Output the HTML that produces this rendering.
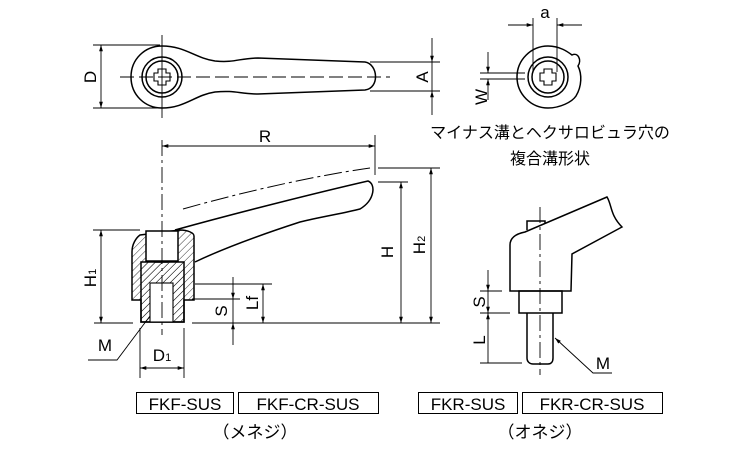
<!DOCTYPE html>
<html><head><meta charset="utf-8"><style>
html,body{margin:0;padding:0;background:#fff;}
svg{display:block;}
text{font-family:"Liberation Sans","Noto Sans CJK JP",sans-serif;fill:#000;}
</style></head><body>
<svg width="750" height="450" viewBox="0 0 750 450" xmlns="http://www.w3.org/2000/svg">
<defs>
<marker id="ar" viewBox="0 0 10 10" refX="10" refY="5" markerWidth="7" markerHeight="7" orient="auto-start-reverse"><path d="M0,2 L10,5 L0,8 z" fill="#000"/></marker>
<pattern id="hatch" width="5" height="5" patternUnits="userSpaceOnUse" patternTransform="rotate(45)"><line x1="0" y1="0" x2="0" y2="5" stroke="#000" stroke-width="0.8"/></pattern>
</defs>
<g fill="none" stroke="#000" stroke-width="1.5">
<!-- TOP VIEW -->
<path d="M162,46 C185,46 195,58 215,61 C235,63 240,58 258,58 L365,62 C378,64 380,88 365,90 L258,94 C240,94 235,90 215,92 C195,95 185,108 162,108 C145,108 131,95 131,77 C131,59 145,46 162,46 Z"/>
<circle cx="162" cy="77" r="20"/><circle cx="162" cy="77" r="16"/>
<path d="M158,69 L166,69 L166,73 L170,73 L170,81 L166,81 L166,85 L158,85 L158,81 L154,81 L154,73 L158,73 Z" stroke-width="1.1"/>
</g>
<g stroke="#000" stroke-width="0.9" fill="none">
<line x1="120" y1="77" x2="390" y2="77" stroke-dasharray="14,5"/>
<line x1="162" y1="35" x2="162" y2="118"/>
<line x1="93" y1="45" x2="160" y2="45"/><line x1="93" y1="108" x2="160" y2="108"/>
<line x1="101" y1="45" x2="101" y2="108" marker-start="url(#ar)" marker-end="url(#ar)"/>
<line x1="370" y1="62" x2="440" y2="62"/><line x1="370" y1="91" x2="440" y2="91"/>
<line x1="432" y1="38" x2="432" y2="62" marker-end="url(#ar)"/><line x1="432" y1="115" x2="432" y2="91" marker-end="url(#ar)"/>
<line x1="432" y1="62" x2="432" y2="91"/>
</g>
<text transform="translate(96,77) rotate(-90)" font-size="17" text-anchor="middle">D</text>
<text transform="translate(428,77) rotate(-90)" font-size="17" text-anchor="middle">A</text>

<!-- SIDE VIEW left -->
<g fill="none" stroke="#000" stroke-width="1.5">
<path d="M175,230 C240,212 320,192 368,181 C376,184 375,200 360,209 C345,213 320,217 300,222 C260,235 220,250 195,262"/>
<path d="M140,235 L180,230 C188,230 194,233 194,236 L194,300 L184,300 L184,322 L141,322 L141,300 L132,300 L132,252 C132,244 136,238 140,235 Z" fill="url(#hatch)"/>
<rect x="146" y="231" width="32" height="30" fill="#fff"/>
<path d="M141,262 L184,262 L184,322 L141,322 Z" fill="url(#hatch)"/>
<rect x="150" y="283" width="23" height="39" fill="#fff" stroke-width="1.1"/>
<line x1="155" y1="262" x2="168" y2="262"/>
</g>
<path d="M183,209 C250,190 320,175 370,168" fill="none" stroke="#000" stroke-width="1" stroke-dasharray="18,4,3,4"/>
<g stroke="#000" stroke-width="0.9" fill="none">
<line x1="162" y1="140" x2="162" y2="335" stroke-dasharray="16,4,3,4"/>
<line x1="162" y1="146" x2="375" y2="146" marker-start="url(#ar)" marker-end="url(#ar)"/>
<line x1="375" y1="135" x2="375" y2="175"/>
<line x1="94" y1="323" x2="133" y2="323"/><line x1="192" y1="323" x2="440" y2="323"/>
<line x1="378" y1="168" x2="440" y2="168"/><line x1="378" y1="182" x2="408" y2="182"/>
<line x1="401" y1="182" x2="401" y2="323" marker-start="url(#ar)" marker-end="url(#ar)"/>
<line x1="431" y1="168" x2="431" y2="323" marker-start="url(#ar)" marker-end="url(#ar)"/>
<line x1="93" y1="230" x2="140" y2="230"/>
<line x1="101" y1="230" x2="101" y2="323" marker-start="url(#ar)" marker-end="url(#ar)"/>
<line x1="195" y1="284" x2="272" y2="284"/><line x1="192" y1="299" x2="240" y2="299"/>
<line x1="263" y1="284" x2="263" y2="323" marker-start="url(#ar)" marker-end="url(#ar)"/>
<line x1="233" y1="277" x2="233" y2="299" marker-end="url(#ar)"/>
<line x1="233" y1="345" x2="233" y2="323" marker-end="url(#ar)"/>
<line x1="233" y1="299" x2="233" y2="323"/>
<polyline points="150,316 117,360 88,360"/>
<line x1="140" y1="328" x2="140" y2="378"/><line x1="184" y1="328" x2="184" y2="378"/>
<line x1="140" y1="368" x2="184" y2="368" marker-start="url(#ar)" marker-end="url(#ar)"/>
</g>
<text transform="translate(393,252) rotate(-90)" font-size="17" text-anchor="middle">H</text>
<text transform="translate(425,245) rotate(-90)" font-size="17" text-anchor="middle">H<tspan font-size="11">2</tspan></text>
<text transform="translate(96,278) rotate(-90)" font-size="17" text-anchor="middle">H<tspan font-size="11">1</tspan></text>
<text transform="translate(227,311) rotate(-90)" font-size="17" text-anchor="middle">S</text>
<text transform="translate(258,303) rotate(-90)" font-size="17" text-anchor="middle">Lf</text>
<text x="265" y="142" font-size="17" text-anchor="middle">R</text>
<text x="105" y="351" font-size="17" text-anchor="middle">M</text>
<text x="162" y="361" font-size="17" text-anchor="middle">D<tspan font-size="11">1</tspan></text>

<!-- RIGHT TOP -->
<g fill="none" stroke="#000" stroke-width="1.5">
<path d="M548,46 C560,46 568,52 572,55 C578,52 582,60 578,66 C582,74 582,86 576,96 C572,102 560,108 548,108 C531,108 517,94 517,77 C517,60 531,46 548,46 Z"/>
<circle cx="548" cy="77" r="20"/><circle cx="548" cy="77" r="16"/>
<path d="M544,69 L552,69 L552,73 L556,73 L556,81 L552,81 L552,85 L544,85 L544,81 L540,81 L540,73 L544,73 Z" stroke-width="1.1"/>
</g>
<g stroke="#000" stroke-width="0.9" fill="none">
<line x1="533" y1="18" x2="533" y2="72"/><line x1="557" y1="18" x2="557" y2="72"/>
<line x1="508" y1="25" x2="533" y2="25" marker-end="url(#ar)"/><line x1="582" y1="25" x2="557" y2="25" marker-end="url(#ar)"/>
<line x1="480" y1="73" x2="525" y2="73"/><line x1="480" y1="79" x2="525" y2="79"/>
<line x1="488" y1="52" x2="488" y2="73" marker-end="url(#ar)"/><line x1="488" y1="100" x2="488" y2="79" marker-end="url(#ar)"/>
</g>
<text x="545" y="18" font-size="17" text-anchor="middle">a</text>
<text transform="translate(487,97) rotate(-90)" font-size="17" text-anchor="middle">W</text>
<text x="550" y="138" font-size="16" text-anchor="middle">マイナス溝とヘクサロビュラ穴の</text>
<text x="550" y="164" font-size="16" text-anchor="middle">複合溝形状</text>

<!-- RIGHT SIDE VIEW -->
<g fill="none" stroke="#000" stroke-width="1.5">
<path d="M527,230 L527,221 L545,221 L545,226"/>
<path d="M510,291 L510,245 C510,238 515,234 525,232 L607,197 C612,205 610,215 622,227 L572,254 L571,291 Z" fill="#fff"/>
<rect x="519" y="291" width="43" height="22"/>
<path d="M527,313 L527,358 C527,362 530,364 533,364 L548,364 C551,364 553,362 553,358 L553,313"/>
</g>
<g stroke="#000" stroke-width="0.9" fill="none">
<line x1="540" y1="207" x2="540" y2="375" stroke-dasharray="16,4,3,4"/>
<line x1="480" y1="291" x2="502" y2="291"/><line x1="480" y1="313" x2="510" y2="313"/><line x1="480" y1="363" x2="522" y2="363"/>
<line x1="488" y1="270" x2="488" y2="291" marker-end="url(#ar)"/>
<line x1="488" y1="291" x2="488" y2="313" marker-end="url(#ar)"/>
<line x1="488" y1="313" x2="488" y2="363" marker-start="url(#ar)"/>
<polyline points="555,338 593,373 612,373" marker-start="url(#ar)"/>
</g>
<text transform="translate(485,302) rotate(-90)" font-size="17" text-anchor="middle">S</text>
<text transform="translate(485,340) rotate(-90)" font-size="17" text-anchor="middle">L</text>
<text x="603" y="369" font-size="17" text-anchor="middle">M</text>

<!-- LABELS -->
<g fill="none" stroke="#000" stroke-width="1">
<rect x="136.5" y="392.5" width="97" height="21"/><rect x="238.5" y="392.5" width="140" height="21"/>
<rect x="418.5" y="392.5" width="99" height="21"/><rect x="522.5" y="392.5" width="140" height="21"/>
</g>
<text x="185" y="410" font-size="17" text-anchor="middle">FKF-SUS</text>
<text x="308" y="410" font-size="17" text-anchor="middle">FKF-CR-SUS</text>
<text x="468" y="410" font-size="17" text-anchor="middle">FKR-SUS</text>
<text x="592" y="410" font-size="17" text-anchor="middle">FKR-CR-SUS</text>
<text x="255" y="438" font-size="17" text-anchor="middle">（メネジ）</text>
<text x="540" y="438" font-size="17" text-anchor="middle">（オネジ）</text>
</svg>
</body></html>
